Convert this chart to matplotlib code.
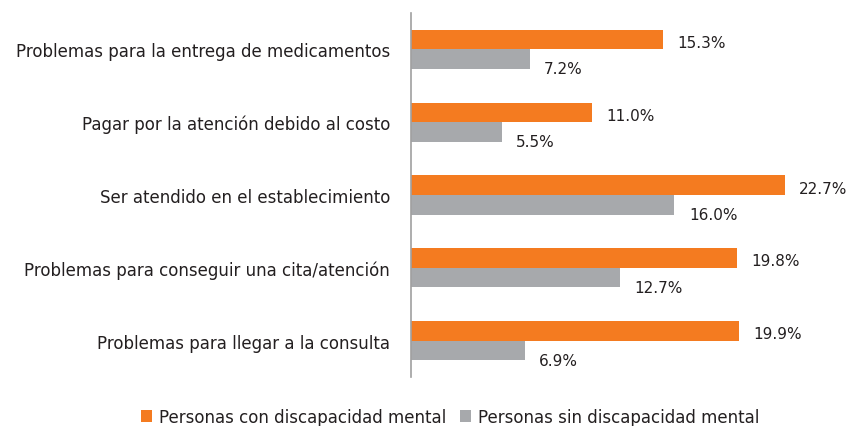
import matplotlib.pyplot as plt
import numpy as np

categories = ['Problemas para la entrega de medicamentos',
              'Pagar por la atención debido al costo',
              'Ser atendido en el establecimiento',
              'Problemas para conseguir una cita/atención',
              'Problemas para llegar a la consulta']
con_discapacidad = [15.3, 11.0, 22.7, 19.8, 19.9]
sin_discapacidad = [7.2, 5.5, 16.0, 12.7, 6.9]
series_names = ['Personas con discapacidad mental', 'Personas sin discapacidad mental']

ORANGE = '#F47B20'
GREY = '#A7A9AC'
TEXT = '#231F20'

plt.rcParams['font.family'] = ['DejaVu Sans']
FS = 12
FS_VAL = 11

fig = plt.figure(figsize=(8.5, 4.27), dpi=100)
ax = fig.add_axes([411 / 850, 1 - 378 / 427, 428 / 850, 364 / 427])

y = np.arange(len(categories))
h = 0.268
b1 = ax.barh(y - h / 2, con_discapacidad, height=h, color=ORANGE, label=series_names[0])
b2 = ax.barh(y + h / 2, sin_discapacidad, height=h, color=GREY, label=series_names[1])

for yy, v in zip(y, con_discapacidad):
    ax.annotate(f'{v:.1f}%', (v, yy - h / 2), xytext=(10.5, -2), textcoords='offset points',
                ha='left', va='center', fontsize=FS_VAL, color=TEXT)
for yy, v in zip(y, sin_discapacidad):
    ax.annotate(f'{v:.1f}%', (v, yy + h / 2), xytext=(10.5, -7), textcoords='offset points',
                ha='left', va='center', fontsize=FS_VAL, color=TEXT)

ax.set_xlim(0, 26)
ax.set_ylim(len(categories) - 0.5, -0.5)
ax.set_yticks(y)
ax.set_yticklabels(categories, fontsize=FS, color=TEXT)
ax.tick_params(axis='y', length=0, pad=15)
ax.set_xticks([])
for s in ['top', 'right', 'bottom']:
    ax.spines[s].set_visible(False)
ax.spines['left'].set_color('#A0A0A0')
ax.spines['left'].set_linewidth(1.2)

fig.legend(handles=[b1, b2], loc='center', bbox_to_anchor=(450 / 850, 1 - 418 / 427),
           ncol=2, frameon=False, fontsize=FS, handlelength=0.7, handleheight=0.7,
           handletextpad=0.4, columnspacing=0.8, labelcolor=TEXT)

fig.savefig('out.png', dpi=100)
